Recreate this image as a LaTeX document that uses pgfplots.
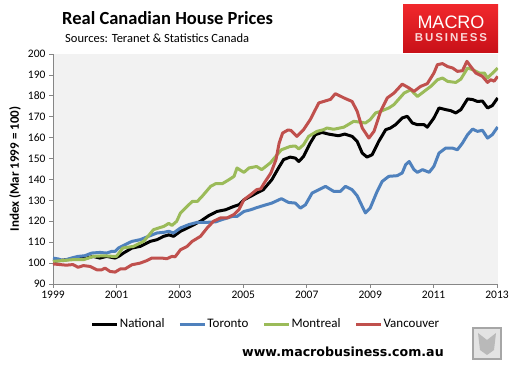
\documentclass[border=0pt]{standalone}
\usepackage{pgfplots}
\pgfplotsset{compat=1.18}
\usepackage{fontspec}
\setmainfont{Carlito}
\newfontfamily\urlfont{DejaVu Sans}
\newfontfamily\logofont{Liberation Sans}
\definecolor{natc}{RGB}{0,0,0}
\definecolor{torc}{RGB}{79,129,189}
\definecolor{monc}{RGB}{155,187,89}
\definecolor{vanc}{RGB}{192,80,77}
\definecolor{axgray}{RGB}{134,134,134}
\definecolor{bgc}{RGB}{242,242,242}
\definecolor{logotop}{RGB}{240,40,44}
\definecolor{logobot}{RGB}{200,16,24}
\definecolor{logopink}{RGB}{250,215,215}
\begin{document}
\begin{tikzpicture}[x=1pt,y=1pt]
\path[use as bounding box] (0,0) rectangle (512,-366);
\begin{axis}[
 at={(53pt,-284pt)}, anchor=south west,
 scale only axis, width=445pt, height=230pt,
 xmin=1999, xmax=2013.03, ymin=90, ymax=200,
 axis lines*=left,
 axis line style={axgray, line width=0.8pt},
 axis background/.style={fill=bgc},
 xtick={1999,2001,2003,2005,2007,2009,2011,2013},
 ytick={90,100,110,120,130,140,150,160,170,180,190,200},
 tick align=outside, major tick length=4pt,
 tick style={axgray, line width=0.8pt},
 minor tick num=0,
 /pgf/number format/assume math mode=true,
 xticklabel style={/pgf/number format/1000 sep={}, font=\fontsize{11.5}{13}\selectfont},
 yticklabel style={font=\fontsize{11.5}{13}\selectfont},
 ylabel={\textbf{Index (Mar 1999 = 100)}},
 ylabel style={at={(axis description cs:-0.0854,0.5)}, anchor=center, font=\fontsize{13}{15}\selectfont},
 legend columns=4,
 legend style={at={(axis description cs:0.4775,-0.174)}, anchor=center, draw=none, fill=none,
   font=\fontsize{13}{15}\selectfont, nodes={inner sep=1pt},
   /tikz/every even column/.append style={column sep=13pt}},
 legend image code/.code={\draw[#1, line width=3pt] (0pt,0pt) -- (25pt,0pt);},
 every axis plot/.append style={line width=3pt, line join=round, no markers},
]
\addplot[natc] coordinates {(1999.0,100.8)(1999.2,101.2)(1999.42,101.6)(1999.74,102.4)(2000.06,102.4)(2000.27,103.2)(2000.48,102.4)(2000.69,103.2)(2000.96,102.4)(2001.1,103.5)(2001.22,104.8)(2001.49,107.2)(2001.75,108)(2002.07,110.4)(2002.28,111.2)(2002.49,112.8)(2002.65,113.5)(2002.8,112.8)(2003.02,115.2)(2003.34,117.6)(2003.65,120)(2003.91,122.7)(2004.17,124.7)(2004.44,125.5)(2004.7,127.1)(2004.86,127.9)(2005.02,130.3)(2005.23,131.9)(2005.42,133.5)(2005.63,135.1)(2005.9,139.9)(2006.11,145.5)(2006.27,149.5)(2006.48,150.7)(2006.64,150.2)(2006.75,148.6)(2006.9,151)(2007.11,157.4)(2007.27,161.4)(2007.48,162.5)(2007.69,161.7)(2008.0,160.9)(2008.2,161.7)(2008.43,160.6)(2008.59,158.2)(2008.75,152.6)(2008.9,150.7)(2009.06,151.8)(2009.27,158.2)(2009.49,163.8)(2009.64,164.6)(2009.8,166.2)(2010.01,169.4)(2010.17,170.2)(2010.33,167)(2010.49,166.2)(2010.7,166.2)(2010.8,165)(2011.01,169.4)(2011.17,174.2)(2011.38,173.4)(2011.54,172.9)(2011.7,171.8)(2011.86,173.4)(2012.07,178.5)(2012.23,178.2)(2012.38,177.3)(2012.54,177.5)(2012.7,174.2)(2012.85,175.3)(2013.02,179)};
\addlegendentry{National}
\addplot[torc] coordinates {(1999.0,102.4)(1999.16,102)(1999.32,101.2)(1999.58,102.4)(1999.79,103.2)(2000.0,103.5)(2000.22,104.8)(2000.48,105.1)(2000.69,104.8)(2000.85,105.6)(2000.96,105.6)(2001.06,107.2)(2001.27,108.8)(2001.49,110.4)(2001.75,111.2)(2002.01,112.8)(2002.28,114.4)(2002.49,114.7)(2002.65,115.2)(2002.8,114.4)(2003.02,116.8)(2003.28,118.4)(2003.55,119.5)(2003.86,119.5)(2004.12,119.7)(2004.33,120.8)(2004.65,122.3)(2004.8,122.3)(2005.02,124.7)(2005.23,125.5)(2005.42,126.5)(2005.63,127.5)(2005.9,128.7)(2006.2,130.8)(2006.43,129)(2006.64,128.7)(2006.8,126.3)(2006.96,127.9)(2007.17,133.5)(2007.38,135.1)(2007.59,136.7)(2007.85,134.3)(2008.06,134.3)(2008.22,136.7)(2008.43,135.1)(2008.59,132.2)(2008.75,127.1)(2008.85,124)(2009.0,126.3)(2009.22,134.3)(2009.38,139.1)(2009.59,141.5)(2009.85,141.8)(2010.01,143.1)(2010.12,147.1)(2010.23,148.6)(2010.38,144.7)(2010.49,143.4)(2010.65,144.7)(2010.86,143.4)(2011.01,146.3)(2011.17,152.6)(2011.38,155)(2011.59,155)(2011.75,154.2)(2011.91,157.4)(2012.07,161.4)(2012.23,164.1)(2012.38,163)(2012.54,163.5)(2012.7,159.8)(2012.85,161.4)(2013.02,165.1)};
\addlegendentry{Toronto}
\addplot[monc] coordinates {(1999.0,100.8)(1999.3,101.2)(1999.6,101.6)(1999.96,101.6)(2000.27,103.2)(2000.6,103.5)(2000.91,103.2)(2001.0,103.2)(2001.2,107.2)(2001.54,108)(2001.86,110.4)(2002.17,116)(2002.5,117.6)(2002.65,119)(2002.75,118)(2002.9,120)(2003.02,124)(2003.23,127.1)(2003.39,129.5)(2003.55,129.5)(2003.7,131.9)(2003.97,136.7)(2004.13,138)(2004.34,138)(2004.55,139.9)(2004.71,141.5)(2004.8,145.5)(2004.9,144.5)(2005.02,143.4)(2005.18,145.5)(2005.42,146.2)(2005.58,144.7)(2005.85,147.9)(2006.11,152.6)(2006.2,154.2)(2006.48,155.8)(2006.64,156)(2006.75,154.6)(2006.9,156.6)(2007.06,160.6)(2007.32,163)(2007.53,163.8)(2007.64,164.6)(2007.85,164)(2008.17,165)(2008.48,167.8)(2008.69,167.4)(2008.85,167)(2009.0,168.6)(2009.17,171.8)(2009.33,172.6)(2009.59,174.2)(2009.75,175.8)(2010.07,181.3)(2010.28,182.9)(2010.38,181.3)(2010.49,179.7)(2010.7,182.1)(2010.91,184.5)(2011.12,187.7)(2011.28,188.5)(2011.44,186.9)(2011.7,186.4)(2011.86,188)(2012.07,193.3)(2012.23,192.5)(2012.44,190.9)(2012.6,190.9)(2012.7,188.5)(2012.8,190)(2013.02,193.3)};
\addlegendentry{Montreal}
\addplot[vanc] coordinates {(1999.0,99.6)(1999.42,99)(1999.63,99.3)(1999.79,98)(1999.96,98.8)(2000.17,98.4)(2000.38,96.8)(2000.54,96.8)(2000.64,97.6)(2000.8,96)(2000.96,95.7)(2001.12,97.2)(2001.27,97.2)(2001.49,99.2)(2001.75,100)(2001.96,101.2)(2002.12,102.4)(2002.43,102.4)(2002.59,102.1)(2002.75,103.2)(2002.85,103)(2003.02,106.4)(2003.23,108)(2003.39,110.4)(2003.65,112.8)(2003.86,116.8)(2004.06,120)(2004.28,121.6)(2004.49,121.6)(2004.7,123.2)(2004.86,125.5)(2005.02,130.3)(2005.23,132.7)(2005.42,135.1)(2005.55,135.5)(2005.66,138.3)(2005.87,143.1)(2006.03,149.5)(2006.13,157.4)(2006.24,162.2)(2006.4,163.6)(2006.5,163.5)(2006.69,160.6)(2006.9,163.8)(2007.11,168.6)(2007.38,176.6)(2007.64,177.8)(2007.75,178.3)(2007.9,181)(2008.0,180.3)(2008.2,178.8)(2008.43,177.3)(2008.59,172.6)(2008.75,164.6)(2008.96,159.8)(2009.12,163)(2009.33,172.6)(2009.54,179)(2009.75,181.3)(2010.01,185.6)(2010.23,183.7)(2010.38,182.1)(2010.59,184.5)(2010.8,185.8)(2011.01,190.9)(2011.12,194.9)(2011.28,195.4)(2011.44,194)(2011.6,193.3)(2011.75,191.7)(2011.91,192)(2012.05,196.5)(2012.17,194)(2012.33,190.9)(2012.54,189.3)(2012.7,186.4)(2012.8,187.7)(2012.91,187)(2013.02,189.3)};
\addlegendentry{Vancouver}
\end{axis}
% titles
\node[anchor=base west, inner sep=0pt, font=\fontsize{18.5}{20}\selectfont\bfseries] at (62,-25) {Real Canadian House Prices};
\node[anchor=base west, inner sep=0pt, font=\fontsize{12.5}{14}\selectfont] at (65,-42.7) {Sources: Teranet \& Statistics Canada};
% logo
\shade[top color=logotop, bottom color=logobot] (403,-5) rectangle (498,-53);
\node[anchor=base, inner sep=0pt, text=white, font=\logofont\fontsize{18}{20}\selectfont] at (451,-28.3) {MACRO};
\node[anchor=base, inner sep=0pt, text=logopink, font=\logofont\fontsize{11.5}{13}\selectfont\bfseries] at (451,-42) {B\,U\,S\,I\,N\,E\,S\,S};
% url
\node[anchor=base west, inner sep=0pt, font=\urlfont\fontsize{12.6}{14}\selectfont\bfseries] at (242,-356) {www.macrobusiness.com.au};
% wolf badge
\draw[gray!70, line width=1.5pt, fill=gray!22] (473,-328) rectangle (501,-359);
\fill[gray!55] (478,-333) -- (487,-340) -- (496,-333) -- (494,-350) -- (487,-355) -- (480,-350) -- cycle;
\end{tikzpicture}
\end{document}
